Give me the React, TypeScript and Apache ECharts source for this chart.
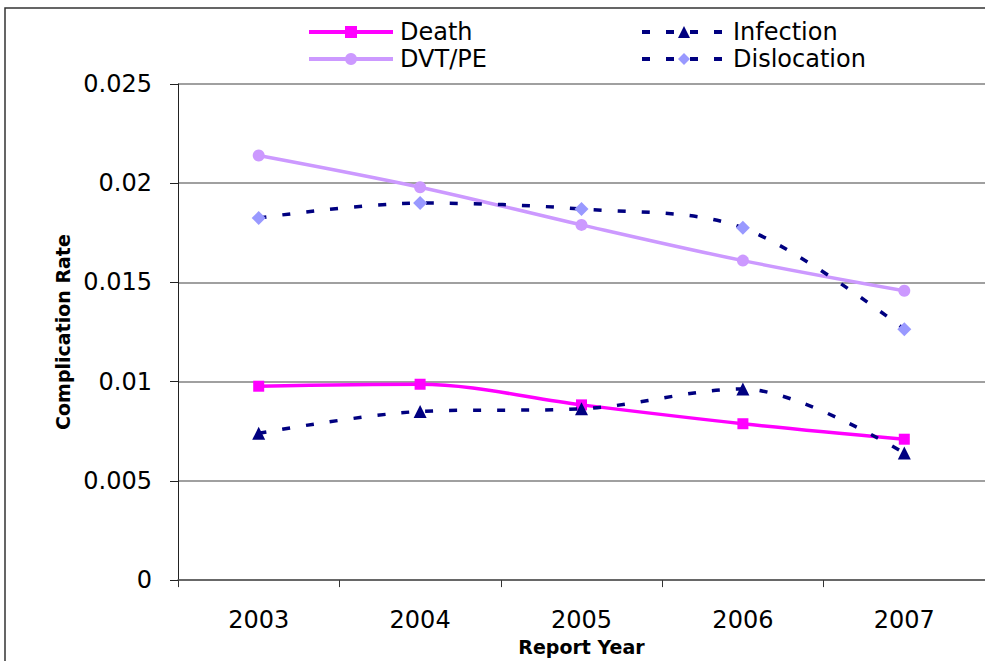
import React, { useEffect, useRef } from "react";
import * as echarts from "echarts";

const years = ["2003", "2004", "2005", "2006", "2007"];
const death = [0.00977, 0.00987, 0.00883, 0.00788, 0.0071];
const dvtPe = [0.0214, 0.0198, 0.0179, 0.0161, 0.01458];
const infection = [0.0074, 0.0085, 0.00863, 0.00963, 0.0064];
const dislocation = [0.01825, 0.019, 0.0187, 0.01775, 0.01264];

const FONT = "DejaVu Sans";

export default function App() {
  const ref = useRef<HTMLDivElement>(null);

  useEffect(() => {
    if (!ref.current) return;
    const chart = echarts.init(ref.current, null, { renderer: "svg" });

    const legendCommon = {
      orient: "vertical" as const,
      top: 20,
      padding: 0,
      itemWidth: 84,
      itemHeight: 15,
      itemGap: 3,
      lineStyle: { width: 4 },
      textStyle: {
        fontFamily: FONT,
        fontSize: 24,
        color: "#000",
        padding: [0, 0, 0, 2],
      },
    };

    chart.setOption({
      animation: false,
      backgroundColor: "#fff",
      graphic: [
        {
          type: "rect",
          shape: { x: 5, y: 8, width: 1000, height: 700 },
          style: { fill: "none", stroke: "#333", lineWidth: 1.5 },
          silent: true,
          z: -1,
        },
      ],
      legend: [
        { ...legendCommon, left: 307, data: ["Death", "DVT/PE"] },
        { ...legendCommon, left: 640, data: ["Infection", "Dislocation"] },
      ],
      grid: { left: 178, top: 84, width: 815, height: 499, containLabel: false },
      xAxis: {
        type: "category",
        data: years,
        boundaryGap: true,
        name: "Report Year",
        nameLocation: "middle",
        nameGap: 51,
        nameTextStyle: { fontFamily: FONT, fontSize: 19, fontWeight: "bold", color: "#000" },
        axisLine: { lineStyle: { color: "#555", width: 1.5 } },
        axisTick: { show: true, length: 7, lineStyle: { color: "#333" } },
        axisLabel: { fontFamily: FONT, fontSize: 24, color: "#000", margin: 28 },
        splitLine: { show: false },
      },
      yAxis: {
        type: "value",
        min: 0,
        max: 0.025,
        interval: 0.005,
        name: "Complication Rate",
        nameLocation: "middle",
        nameRotate: 90,
        nameGap: 106,
        nameTextStyle: { fontFamily: FONT, fontSize: 19, fontWeight: "bold", color: "#000" },
        axisLine: { show: true, lineStyle: { color: "#222", width: 1 } },
        axisTick: { show: true, length: 8, lineStyle: { color: "#222" } },
        axisLabel: {
          fontFamily: FONT,
          fontSize: 24,
          color: "#000",
          margin: 26,
          formatter: (v: number) => String(+v.toFixed(3)),
        },
        splitLine: { show: true, lineStyle: { color: "#808080", width: 1.5 } },
      },
      series: [
        {
          name: "Death",
          type: "line",
          data: death,
          smooth: 0.33,
          symbol: "rect",
          symbolSize: 11,
          lineStyle: { color: "#FF00FF", width: 3.5 },
          itemStyle: { color: "#FF00FF" },
          z: 2,
        },
        {
          name: "DVT/PE",
          type: "line",
          data: dvtPe,
          smooth: 0.33,
          symbol: "circle",
          symbolSize: 12,
          lineStyle: { color: "#CC99FF", width: 3.5 },
          itemStyle: { color: "#CC99FF" },
          z: 2,
        },
        {
          name: "Infection",
          type: "line",
          data: infection,
          smooth: 0.33,
          symbol: "triangle",
          symbolSize: 13,
          lineStyle: { color: "#000080", width: 3.5, type: [8, 16] },
          itemStyle: { color: "#000080" },
          z: 3,
        },
        {
          name: "Dislocation",
          type: "line",
          data: dislocation,
          smooth: 0.33,
          symbol: "diamond",
          symbolSize: 14,
          lineStyle: { color: "#000080", width: 3.5, type: [8, 16] },
          itemStyle: { color: "#9999FF" },
          z: 3,
        },
      ],
    });

    return () => chart.dispose();
  }, []);

  return (
    <div
      ref={ref}
      style={{ position: "fixed", left: 0, top: 0, width: 985, height: 661 }}
    />
  );
}
